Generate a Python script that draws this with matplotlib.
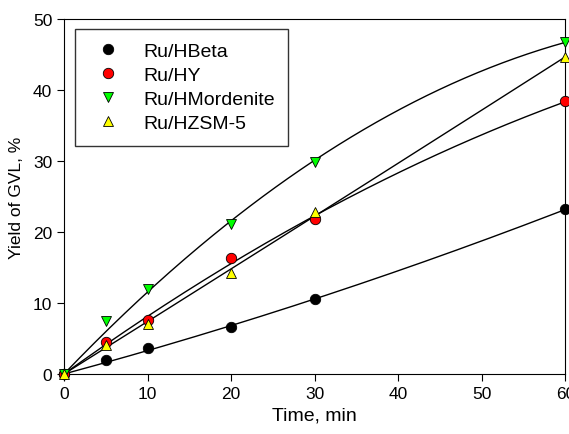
import numpy as np
import matplotlib
matplotlib.use("Agg")
import matplotlib.pyplot as plt

plt.rcParams['font.family'] = ['Liberation Sans', 'DejaVu Sans']

time = [0, 5, 10, 20, 30, 60]
hbeta = [0, 1.9, 3.6, 6.6, 10.5, 23.2]
hy = [0, 4.5, 7.6, 16.3, 21.8, 38.4]
hmord = [0, 7.4, 11.9, 21.1, 29.9, 46.8]
hzsm = [0, 4.1, 7.1, 14.2, 22.8, 44.6]

labels = ["Ru/HBeta", "Ru/HY", "Ru/HMordenite", "Ru/HZSM-5"]
series = [hbeta, hy, hmord, hzsm]
colors = ["black", "red", "#00ff00", "#ffff00"]
markers = ["o", "o", "v", "^"]

fig = plt.figure(figsize=(5.69, 4.35), dpi=100)
ax = fig.add_axes([0.1125, 0.138, 0.881, 0.816])

t = np.array(time, dtype=float)
tt = np.linspace(0, 60, 200)
for y in series:
    # quadratic fit through origin
    A = np.vstack([t, t**2]).T
    coef, *_ = np.linalg.lstsq(A, np.array(y, dtype=float), rcond=None)
    ax.plot(tt, coef[0]*tt + coef[1]*tt**2, color="black", lw=1.0, zorder=2)

handles = []
for y, lab, c, m in zip(series, labels, colors, markers):
    h, = ax.plot(time, y, linestyle="none", marker=m, markersize=7.5,
                 markerfacecolor=c, markeredgecolor="black", markeredgewidth=0.6,
                 label=lab, zorder=3, clip_on=False)
    handles.append(h)

ax.set_xlim(0, 60)
ax.set_ylim(0, 50)
ax.set_xticks([0, 10, 20, 30, 40, 50, 60])
ax.set_yticks([0, 10, 20, 30, 40, 50])
ax.tick_params(direction="out", labelsize=12.5, length=5, top=False, right=False)
ax.set_xlabel("Time, min", fontsize=14)
ax.set_ylabel("Yield of GVL, %", fontsize=12.5, labelpad=6)

leg = ax.legend(handles=handles, loc="upper left", bbox_to_anchor=(0.022, 0.972),
                fontsize=14, frameon=True, fancybox=False, edgecolor="black",
                borderpad=0.7, handletextpad=0.8, labelspacing=0.33,
                borderaxespad=0, markerscale=1.0, handlelength=2.0)
leg.get_frame().set_linewidth(1.0)

fig.savefig("out.png", dpi=100)
